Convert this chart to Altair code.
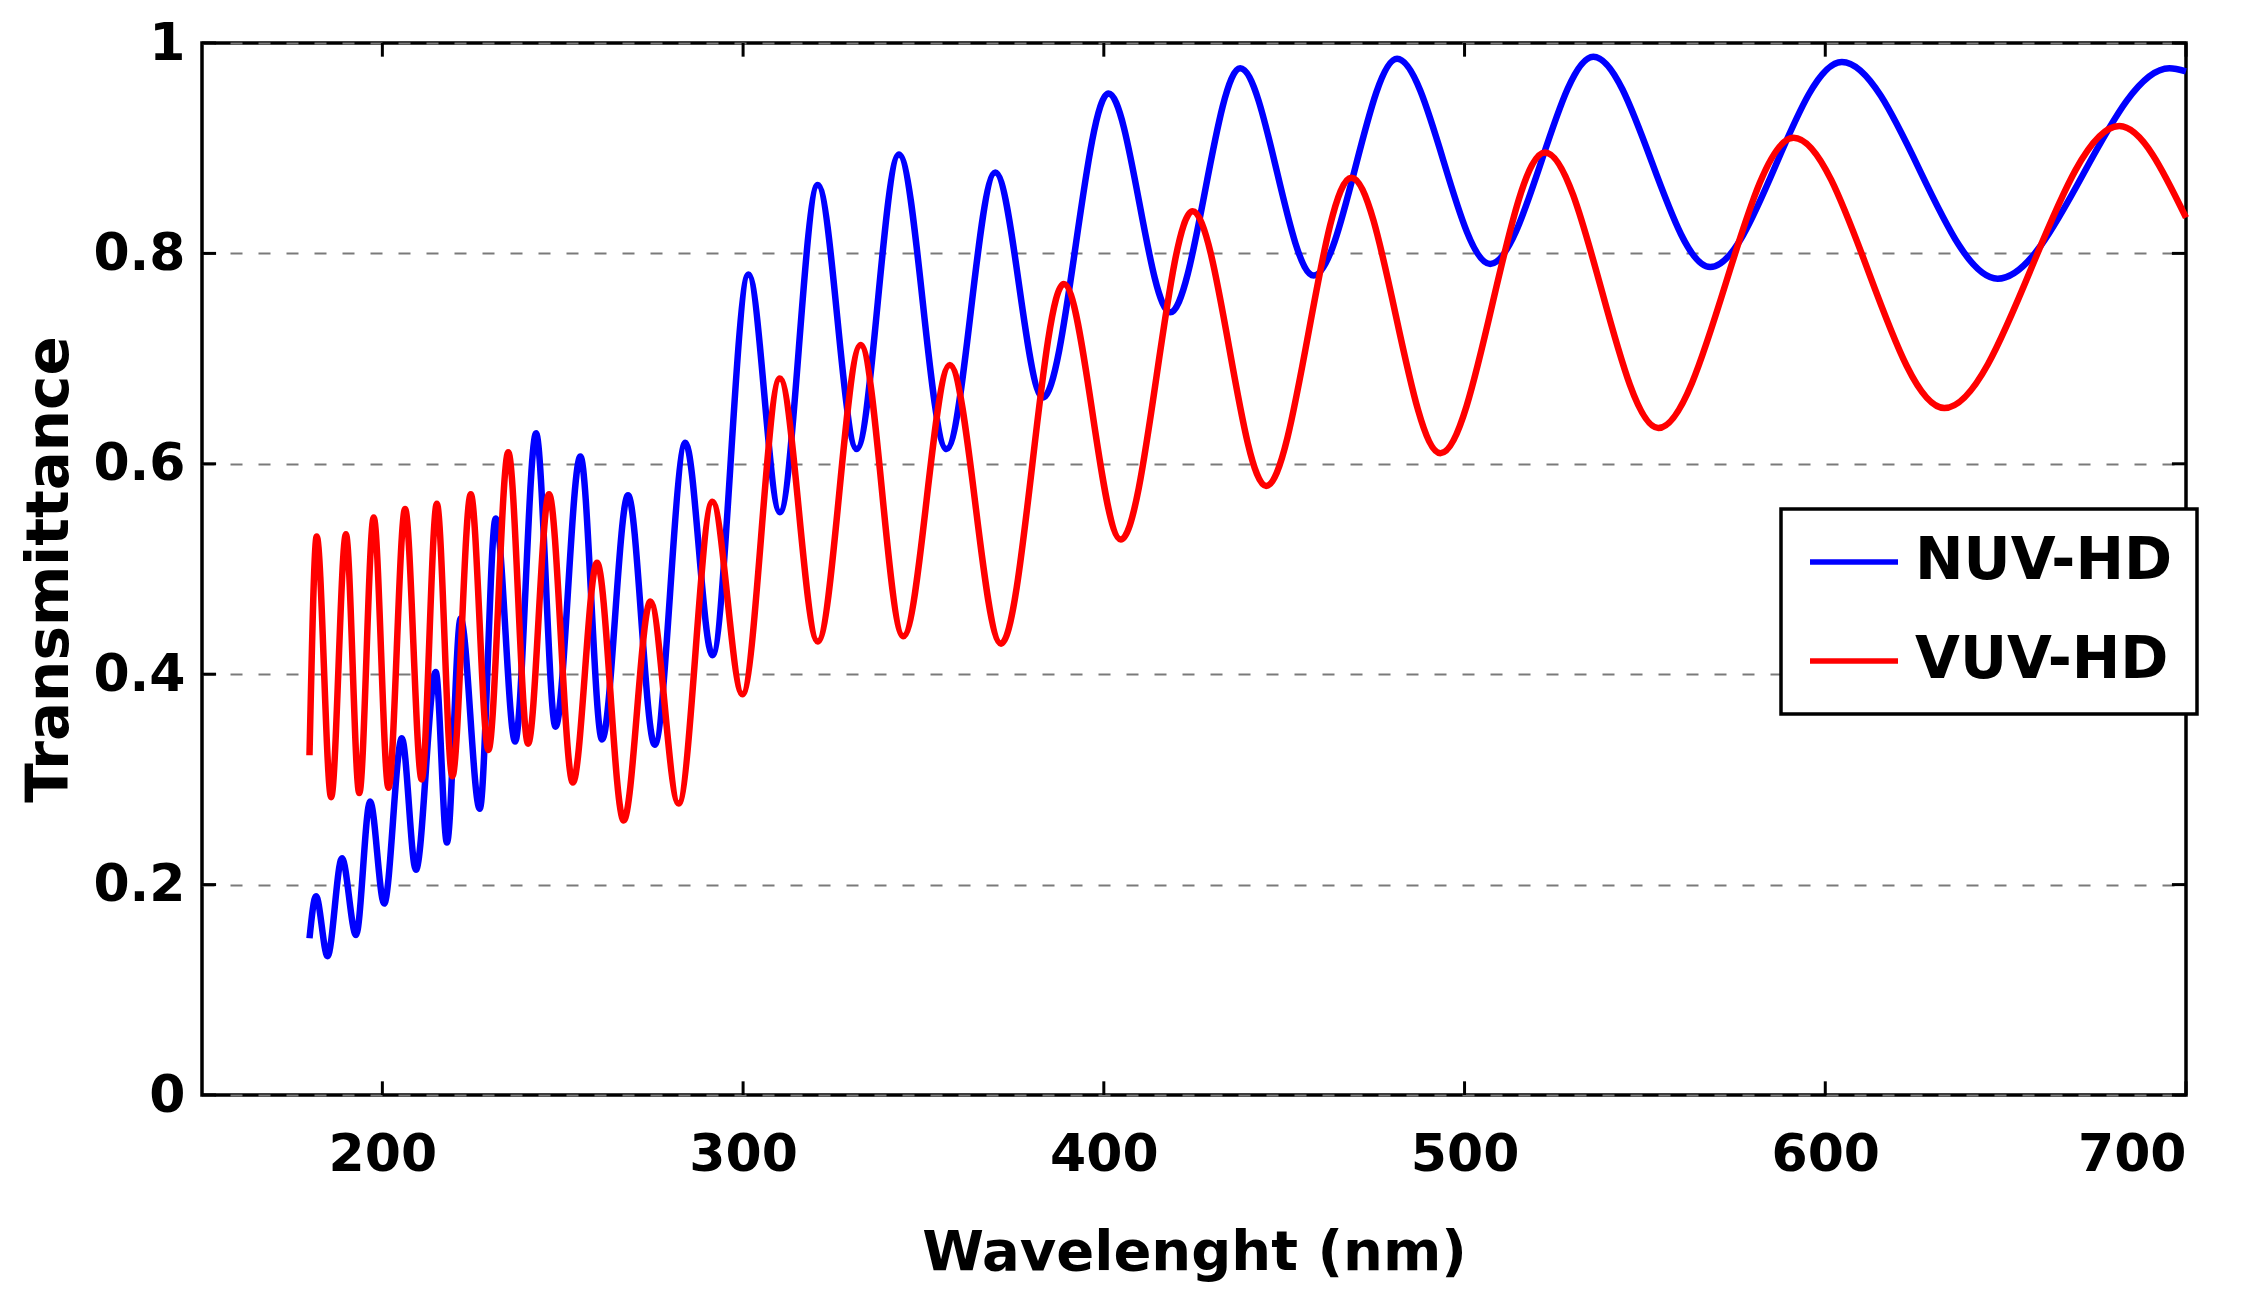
import altair as alt
import pandas as pd

# ---- data (extrema of each curve) ----
nuv_nm = [179.8, 181.6, 184.8, 188.8, 192.7, 196.6, 200.5, 205.4, 209.3, 214.8,
          217.9, 221.7, 227.0, 231.4, 236.8, 242.6, 248.0, 254.9, 260.9, 268.1,
          275.5, 284.0, 291.5, 301.5, 310.2, 320.7, 331.5, 343.2, 356.4, 369.9,
          383.1, 401.3, 418.4, 437.8, 458.2, 481.3, 507.1, 535.7, 568.1, 604.6,
          647.8, 695.4, 700.0]
nuv_T = [0.149, 0.189, 0.132, 0.225, 0.152, 0.279, 0.182, 0.339, 0.214, 0.402,
         0.240, 0.453, 0.272, 0.548, 0.336, 0.629, 0.350, 0.607, 0.338, 0.570,
         0.333, 0.620, 0.418, 0.780, 0.554, 0.865, 0.614, 0.894, 0.614, 0.877,
         0.663, 0.952, 0.744, 0.976, 0.779, 0.985, 0.790, 0.987, 0.787, 0.982,
         0.776, 0.976, 0.973]

vuv_nm = [179.8, 181.8, 185.8, 189.9, 193.6, 197.6, 201.7, 206.3, 210.9, 215.1,
          219.4, 224.5, 229.4, 234.9, 240.4, 246.2, 252.8, 259.5, 266.9, 274.3,
          282.1, 291.5, 299.8, 310.2, 320.7, 332.6, 344.4, 357.3, 371.5, 388.9,
          404.7, 424.6, 445.0, 468.6, 493.3, 522.3, 553.7, 591.2, 633.0, 681.5,
          700.0]
vuv_T = [0.323, 0.531, 0.283, 0.533, 0.287, 0.549, 0.292, 0.557, 0.300, 0.562,
         0.303, 0.571, 0.328, 0.611, 0.334, 0.571, 0.297, 0.506, 0.261, 0.469,
         0.277, 0.564, 0.381, 0.681, 0.431, 0.713, 0.436, 0.694, 0.429, 0.771,
         0.528, 0.840, 0.579, 0.872, 0.610, 0.896, 0.634, 0.910, 0.653, 0.921,
         0.834]

series_names = ["NUV-HD", "VUV-HD"]
series_colors = ["#0000ff", "#ff0000"]
x_ticks = [200, 300, 400, 500, 600, 700]
y_ticks = [0, 0.2, 0.4, 0.6, 0.8, 1]

df = pd.concat([
    pd.DataFrame({"nm": nuv_nm, "T": nuv_T, "series": series_names[0]}),
    pd.DataFrame({"nm": vuv_nm, "T": vuv_T, "series": series_names[1]}),
])

FONT = "DejaVu Sans"
XMIN, XMAX = 150, 700
xs = alt.Scale(domain=[XMIN, XMAX], nice=False, zero=False)
ys = alt.Scale(domain=[0, 1], nice=False)

lines = alt.Chart(df).mark_line(strokeWidth=6.5, interpolate="monotone").encode(
    x=alt.X("nm:Q", scale=xs, axis=alt.Axis(
        values=x_ticks, title="Wavelenght (nm)", grid=False, ticks=False, tickSize=0,
        domain=False, labelFontSize=52, labelFont=FONT, labelFontWeight="bold",
        labelColor="black", labelPadding=34, titleFont=FONT, titleFontSize=56,
        titleFontWeight="bold", titleColor="black", titleY=157, titleBaseline="middle")),
    y=alt.Y("T:Q", scale=ys, axis=alt.Axis(
        values=y_ticks, format="~g", title="Transmittance", grid=True,
        gridDash=[12, 16], gridColor="#7a7a7a", gridWidth=2, ticks=False, tickSize=0,
        domain=False, labelFontSize=52, labelFont=FONT, labelFontWeight="bold",
        labelColor="black", labelPadding=17, titleFont=FONT, titleFontSize=58,
        titleFontWeight="bold", titleColor="black", titleX=-152, titleBaseline="middle")),
    color=alt.Color("series:N", scale=alt.Scale(domain=series_names, range=series_colors),
                    legend=alt.Legend(
                        orient="none", legendX=1579, legendY=466, title=None,
                        symbolType="M-1.2,0H3.2", symbolSize=1600, symbolStrokeWidth=5.5,
                        labelFontSize=58, labelFont=FONT, labelFontWeight="bold",
                        labelColor="black", labelOffset=52, labelLimit=1000,
                        rowPadding=41, padding=24, strokeColor="black",
                        fillColor="white")),
    order=alt.Order("nm:Q"),
)

tx = pd.DataFrame({"v": x_ticks})
ty = pd.DataFrame({"v": y_ticks})
tick_len_y = 0.013
tick_len_x = 3.9

bottom_ticks = alt.Chart(tx).mark_rule(color="black", strokeWidth=3).encode(
    x=alt.X("v:Q", scale=xs), y=alt.YDatum(0, scale=ys), y2=alt.Y2Datum(tick_len_y))
top_ticks = alt.Chart(tx).mark_rule(color="black", strokeWidth=3).encode(
    x=alt.X("v:Q", scale=xs), y=alt.YDatum(1, scale=ys), y2=alt.Y2Datum(1 - tick_len_y))
left_ticks = alt.Chart(ty).mark_rule(color="black", strokeWidth=3).encode(
    y=alt.Y("v:Q", scale=ys), x=alt.XDatum(XMIN, scale=xs), x2=alt.X2Datum(XMIN + tick_len_x))
right_ticks = alt.Chart(ty).mark_rule(color="black", strokeWidth=3).encode(
    y=alt.Y("v:Q", scale=ys), x=alt.XDatum(XMAX, scale=xs), x2=alt.X2Datum(XMAX - tick_len_x))

chart = alt.layer(lines, bottom_ticks, top_ticks, left_ticks, right_ticks).properties(
    width=1984, height=1052,
    autosize=alt.AutoSizeParams(type="none"),
    padding={"left": 194, "top": 35, "right": 60, "bottom": 190},
    background="white",
).configure_view(
    stroke="black", strokeWidth=3.5
).configure_legend(
    strokeWidth=3.5
)

chart.save("out.html", embed_options={"renderer": "svg", "actions": False})
